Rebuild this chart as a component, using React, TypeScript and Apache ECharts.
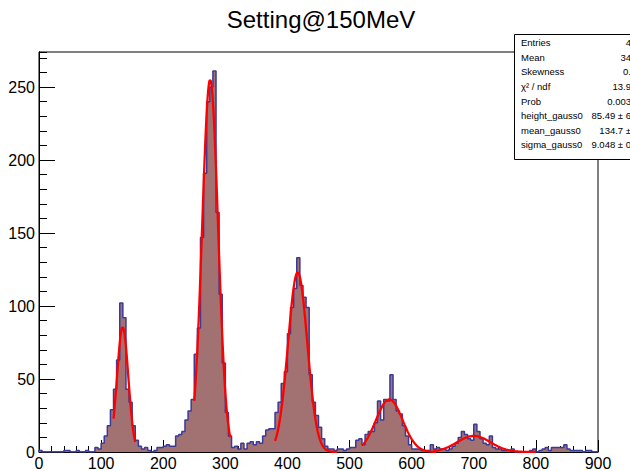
import React, { useEffect, useRef } from "react";
import * as echarts from "echarts";

// Histogram: 180 bins of width 5 from 0 to 900
const binStart = 0;
const binWidth = 5;
const counts = [
  1, 0, 0, 0, 0, 0, 0, 0, 1, 1, 0, 0, 1, 0, 0, 1, 0, 0, 3, 2,
  6, 11, 18, 29, 43, 63, 102, 92, 43, 34, 18, 8, 4, 2, 3, 1, 0, 1, 3, 3,
  4, 5, 4, 4, 11, 12, 14, 22, 28, 36, 67, 85, 147, 191, 240, 250, 261, 164, 108, 61,
  27, 11, 3, 4, 2, 6, 2, 6, 7, 5, 7, 6, 11, 15, 16, 16, 27, 34, 47, 55,
  81, 99, 112, 133, 114, 106, 99, 53, 34, 25, 17, 9, 4, 2, 2, 1, 2, 2, 1, 2,
  3, 3, 8, 9, 5, 12, 14, 14, 20, 35, 22, 36, 35, 53, 36, 28, 26, 18, 11, 5,
  2, 2, 2, 1, 1, 1, 5, 2, 3, 2, 2, 1, 2, 4, 6, 10, 14, 12, 9, 8,
  19, 14, 9, 6, 5, 11, 3, 2, 2, 1, 1, 1, 2, 0, 0, 0, 0, 0, 1, 2,
  0, 1, 2, 3, 1, 3, 3, 3, 3, 5, 2, 1, 1, 1, 1, 0, 1, 1, 0, 0,
];

// Gaussian fit curves (height, mean, sigma, fit range)
const fitHeights = [85.49, 255, 123, 36, 11];
const fitMeans = [134.7, 275.5, 416.5, 564, 700];
const fitSigmas = [9.048, 12.8, 15.5, 21.5, 27];
const fitLow = [120, 250, 380, 520, 635];
const fitHigh = [155, 308, 480, 640, 800];

const xTickValues = [0, 100, 200, 300, 400, 500, 600, 700, 800, 900];
const yTickValues = [0, 50, 100, 150, 200, 250];

const titleText = "Setting@150MeV";
const statLabels = ["Entries", "Mean", "Skewness", "χ² / ndf", "Prob", "height_gauss0", "mean_gauss0", "sigma_gauss0"];
const statValues = ["4", "34", "0.", "13.9", "0.003", "85.49 ± 6", "134.7 ±", "9.048 ± 0"];

const FONT = "'Liberation Sans', Arial, Helvetica, sans-serif";

export default function App() {
  const ref = useRef<HTMLDivElement>(null);

  useEffect(() => {
    if (!ref.current) return;
    const chart = echarts.init(ref.current, undefined, { renderer: "svg" });

    const histPts: number[][] = [[binStart, 0]];
    counts.forEach((c, i) => {
      const x0 = binStart + i * binWidth;
      histPts.push([x0, c], [x0 + binWidth, c]);
    });
    histPts.push([binStart + counts.length * binWidth, 0]);

    const fitSeries = fitMeans.map((m, k) => {
      const pts: number[][] = [];
      const h = fitHeights[k];
      const s = fitSigmas[k];
      for (let x = fitLow[k]; x <= fitHigh[k] + 1e-9; x += 0.5) {
        pts.push([x, h * Math.exp(-0.5 * ((x - m) / s) ** 2)]);
      }
      return {
        type: "line",
        data: pts,
        symbol: "none",
        smooth: false,
        z: 5,
        lineStyle: { color: "#ff0000", width: 2.3 },
      };
    });

    const xMax = xTickValues[xTickValues.length - 1];
    const yMax = 274;

    const option: any = {
      animation: false,
      backgroundColor: "#ffffff",
      grid: {
        left: 39,
        right: 32,
        top: 52,
        bottom: 18,
        show: true,
        borderColor: "#000",
        borderWidth: 1,
        backgroundColor: "transparent",
      },
      xAxis: {
        type: "value",
        min: xTickValues[0],
        max: xMax,
        interval: 100,
        axisLine: { show: true, onZero: false, lineStyle: { color: "#000", width: 1 } },
        axisTick: { show: true, inside: true, length: 12, lineStyle: { color: "#000", width: 1 } },
        minorTick: { show: true, splitNumber: 5, length: 6, lineStyle: { color: "#000", width: 1 } },
        axisLabel: { color: "#000", fontSize: 16, margin: 3, fontFamily: FONT },
        splitLine: { show: false },
        minorSplitLine: { show: false },
      },
      yAxis: [
        {
          type: "value",
          min: 0,
          max: yMax,
          interval: 10,
          position: "left",
          axisLine: { show: true, onZero: false, lineStyle: { color: "#000", width: 1 } },
          axisTick: { show: true, inside: true, length: 8, lineStyle: { color: "#000", width: 1 } },
          axisLabel: { show: false },
          splitLine: { show: false },
        },
        {
          type: "value",
          min: 0,
          max: yMax,
          interval: 50,
          position: "left",
          axisLine: { show: true, onZero: false, lineStyle: { color: "#000", width: 1 } },
          axisTick: { show: true, inside: true, length: 16, lineStyle: { color: "#000", width: 1 } },
          axisLabel: {
            color: "#000",
            fontSize: 16,
            margin: 4,
            fontFamily: FONT,
            showMaxLabel: false,
            formatter: (v: number) => (yTickValues.includes(v) ? String(v) : ""),
          },
          splitLine: { show: false },
        },
      ],
      series: [
        {
          type: "line",
          data: histPts,
          symbol: "none",
          z: 2,
          lineStyle: { color: "#3a3a98", width: 1.5 },
          areaStyle: { color: "#a27272", opacity: 1 },
        },
        ...fitSeries,
      ],
      graphic: [
        {
          type: "text",
          x: 321,
          y: 19,
          z: 100,
          style: {
            text: titleText,
            fontSize: 24,
            fontFamily: FONT,
            fill: "#000",
            textAlign: "center",
            textVerticalAlign: "middle",
          },
        },
        {
          type: "rect",
          z: 100,
          shape: { x: 514.5, y: 34.5, width: 140, height: 125 },
          style: { fill: "#ffffff", stroke: "#000", lineWidth: 1 },
        },
        ...statLabels.map((t, i) => ({
          type: "text",
          x: 521,
          y: 42.7 + i * 14.6,
          z: 101,
          style: {
            text: t,
            fontSize: 9.5,
            fontFamily: FONT,
            fill: "#000",
            textAlign: "left",
            textVerticalAlign: "middle",
          },
        })),
        ...statValues.map((t, i) => ({
          type: "text",
          x: 631,
          y: 42.7 + i * 14.6,
          z: 101,
          style: {
            text: t,
            fontSize: 9.5,
            fontFamily: FONT,
            fill: "#000",
            textAlign: "right",
            textVerticalAlign: "middle",
          },
        })),
      ],
    };

    chart.setOption(option);
    return () => {
      chart.dispose();
    };
  }, []);

  return (
    <div
      ref={ref}
      style={{ position: "fixed", left: 0, top: 0, width: 630, height: 471, background: "#fff" }}
    />
  );
}
